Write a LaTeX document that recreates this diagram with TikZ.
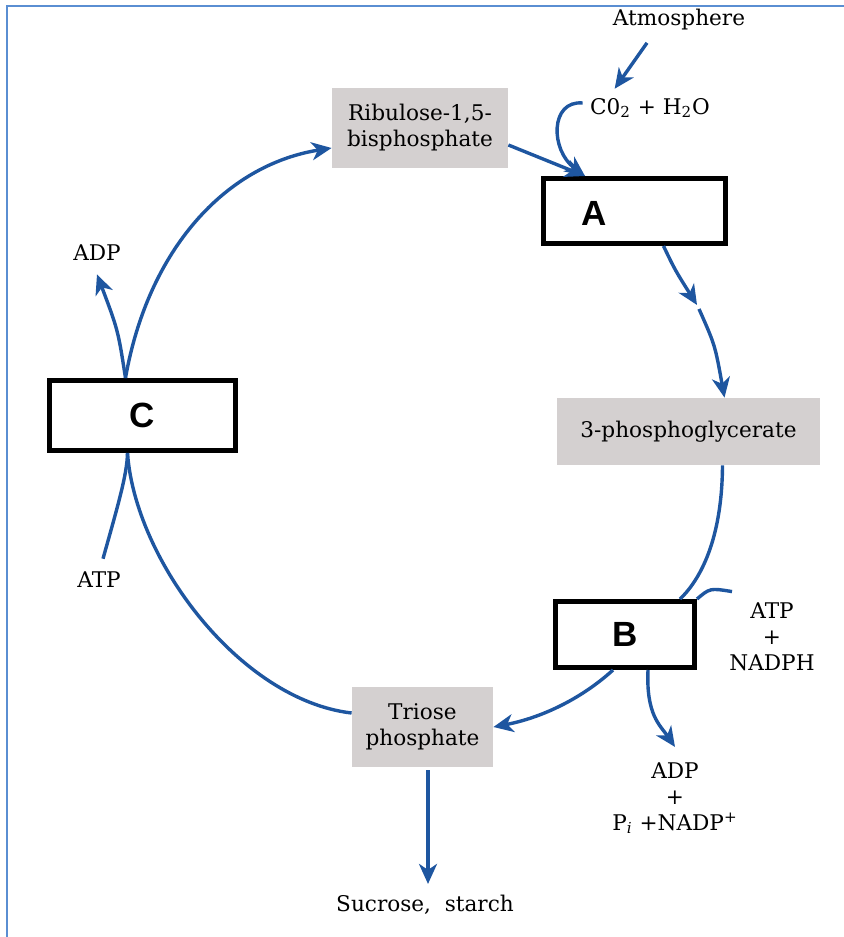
\documentclass[tikz,border=0pt]{standalone}
\usepackage{fontspec}
\setmainfont{DejaVu Serif}
\newfontfamily\boxletter{Liberation Sans}
\usetikzlibrary{arrows.meta}
\definecolor{cycleblue}{HTML}{1E56A0}
\definecolor{boxgray}{HTML}{D4D0D0}
\definecolor{edgeblue}{HTML}{5A8ED2}

\begin{document}
\begin{tikzpicture}[x=0.5pt,y=-0.5pt,
  every node/.style={font=\fontsize{10.8}{13}\selectfont, inner sep=1.5pt},
  compound/.style={fill=boxgray, align=center},
  stepbox/.style={draw=black, line width=2.5pt, fill=white, font=\boxletter\bfseries\fontsize{17.5}{20}\selectfont},
  flow/.style={draw=cycleblue, line width=1.7pt, -{Stealth[length=10pt,width=9pt,inset=3pt]}},
  branch/.style={draw=cycleblue, line width=1.7pt}]
\useasboundingbox (0,0) rectangle (844,937);
\draw[edgeblue, line width=1.4pt] (7,937) -- (7,6) -- (844,6);

\node[compound, minimum width=88pt, minimum height=40pt] (rubp) at (420,128) {Ribulose-1,5-\\bisphosphate};
\node[compound, minimum width=131.5pt, minimum height=33.5pt] (pga) at (688.5,431.5) {3-phosphoglycerate};
\node[compound, minimum width=70.5pt, minimum height=40pt] (triose) at (422.5,727) {Triose\\phosphate};

\node[stepbox, minimum width=91pt, minimum height=32.5pt] (A) at (634.5,211) {};
\node[font=\boxletter\bfseries\fontsize{17.5}{20}\selectfont] (Aletter) at (594,213) {A};
\node[stepbox, minimum width=69.5pt, minimum height=33pt] (B) at (625,634.5) {B};
\node[stepbox, minimum width=93pt, minimum height=35pt] (C) at (142.5,415.5) {C};

\node (atm) at (679,20) {Atmosphere};
\node (co2) at (650,108) {C0\textsubscript{2} + H\textsubscript{2}O};
\node[align=center] (atpB) at (772,637) {ATP\\+\\NADPH};
\node[align=center] (adpB) at (675,798) {ADP\\+\\P\textsubscript{\itshape i} +NADP\textsuperscript{+}};
\node (sugar) at (425,905) {Sucrose,~ starch};
\node (adpC) at (97,253) {ADP};
\node (atpC) at (99,580) {ATP};

\coordinate (Ain) at ([xshift=-24.75pt]A.north);
\coordinate (mid1) at (697,305);
\coordinate (mid2) at (699,309);

\draw[flow] ([xshift=-16pt,yshift=-4.5pt]atm.south) -- ([xshift=14pt,yshift=3pt]co2.north west);
\draw[flow] ([xshift=-2pt,yshift=2.5pt]co2.west) .. controls (550,100) and (550,150) .. (Ain);
\draw[flow] ([yshift=-8.5pt]rubp.east) -- (Ain);
\draw[flow] ([xshift=14.5pt]A.south) .. controls (675,270) .. (mid1);
\draw[flow] (mid2) .. controls (715,345) .. ([xshift=18pt]pga.north);
\draw[branch] ([xshift=17pt]pga.south) .. controls (722,540) and (700,580) .. ([xshift=27.5pt]B.north);
\draw[branch] ([xshift=3pt,yshift=4pt]atpB.north west) .. controls (710,588) .. (B.north east);
\draw[flow] ([xshift=-6pt]B.south) .. controls (580,700) and (540,718) .. (triose.east);
\draw[flow] ([xshift=11.5pt]B.south) .. controls (646,715) and (660,725) .. ([yshift=6pt]adpB.north);
\draw[flow] ([xshift=2.75pt,yshift=-1.5pt]triose.south) -- ([xshift=2.75pt,yshift=4pt]triose.south |- sugar.north);
\draw[branch] ([yshift=7pt]triose.west) .. controls (240,700) and (135,560) .. ([xshift=-7.5pt]C.south);
\draw[branch] ([xshift=2pt,yshift=5pt]atpC.north) .. controls (118,505) and (127,475) .. ([xshift=-7.5pt]C.south);
\draw[flow] ([xshift=-8.5pt]C.north) .. controls (148,250) and (225,165) .. ([yshift=-10pt]rubp.west);
\draw[flow] ([xshift=-8.5pt]C.north) .. controls (118,330) .. ([yshift=-5pt]adpC.south);
\end{tikzpicture}
\end{document}
